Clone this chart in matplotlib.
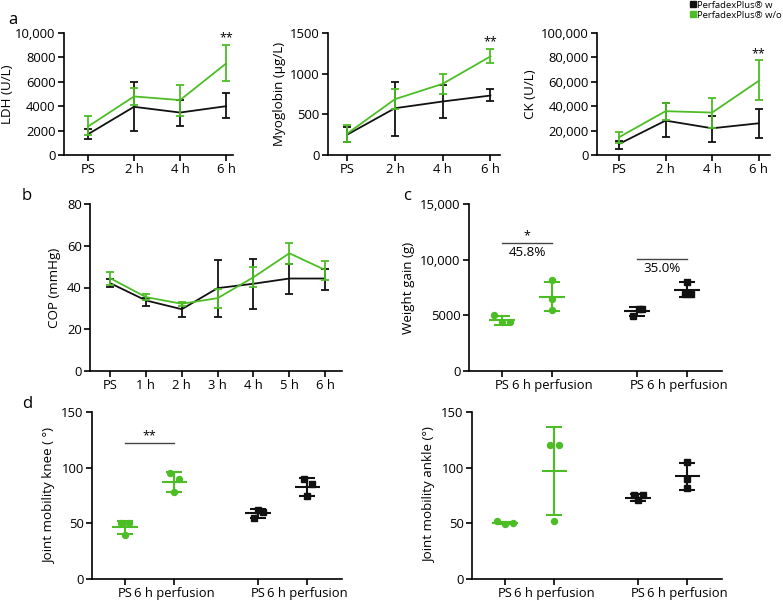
import numpy as np
import matplotlib
matplotlib.use('Agg')
import matplotlib.pyplot as plt
from matplotlib.lines import Line2D
from matplotlib.ticker import FuncFormatter

plt.rcParams['font.family'] = ['Open Sans', 'DejaVu Sans']
plt.rcParams['font.size'] = 9

GREEN = '#4dbd26'
BLACK = '#111111'

# panel a: time points
times_a = ['PS', '2 h', '4 h', '6 h']
ldh_w = [1700, 3950, 3480, 4000]
ldh_w_lo = [1300, 1950, 2400, 3000]
ldh_w_hi = [2150, 5950, 4500, 5070]
ldh_wo = [2330, 4800, 4500, 7500]
ldh_wo_lo = [1600, 4100, 3200, 6100]
ldh_wo_hi = [3170, 5500, 5700, 9000]

myo_w = [250, 575, 658, 731]
myo_w_lo = [160, 234, 452, 670]
myo_w_hi = [345, 900, 863, 810]
myo_wo = [262, 686, 875, 1212]
myo_wo_lo = [160, 560, 752, 1130]
myo_wo_hi = [375, 810, 990, 1303]

ck_w = [9000, 28200, 21900, 26000]
ck_w_lo = [4700, 14500, 11000, 14200]
ck_w_hi = [11200, 43000, 31800, 38000]
ck_wo = [14500, 35900, 34800, 60800]
ck_wo_lo = [10000, 28800, 22000, 45200]
ck_wo_hi = [19000, 42500, 47000, 77500]

# panel b: COP
times_b = ['PS', '1 h', '2 h', '3 h', '4 h', '5 h', '6 h']
cop_w = [42.1, 33.8, 29.6, 39.7, 41.8, 44.3, 44.3]
cop_w_lo = [40.2, 30.9, 25.8, 26.1, 29.8, 37.0, 38.9]
cop_w_hi = [44.0, 35.2, 32.5, 53.2, 53.5, 51.3, 49.1]
cop_wo = [44.5, 35.4, 32.2, 34.9, 44.9, 56.4, 48.4]
cop_wo_lo = [41.3, 33.8, 31.2, 30.3, 40.2, 51.3, 43.7]
cop_wo_hi = [47.3, 36.7, 33.1, 39.2, 49.7, 61.2, 52.9]

# panels c, d: individual values (w/o PS, w/o 6h, w PS, w 6h)
group_labels = ['PS', '6 h perfusion', 'PS', '6 h perfusion']
weight_pts = [[5020, 4420, 4420], [8130, 6510, 5500], [4900, 5560, 5560], [8000, 6930, 6930]]
weight_mean = [4570, 6690, 5350, 7290]
weight_sd = [400, 1310, 375, 660]
weight_jit = [[-0.16, 0, 0.16], [0, 0, 0], [-0.09, 0.03, 0.1], [0, -0.05, 0.07]]

knee_pts = [[50.1, 39.7, 50.1], [94.8, 77.8, 89.8], [54.6, 62.0, 60.5], [89.8, 74.6, 85.0]]
knee_mean = [46.5, 87.4, 59.0, 82.9]
knee_sd = [6.0, 9.0, 4.1, 7.9]
knee_jit = [[-0.09, 0, 0.09], [-0.08, 0, 0.09], [-0.08, 0, 0.1], [-0.07, 0, 0.09]]

ankle_pts = [[52.3, 49.3, 50.2], [120.2, 52.2, 120.2], [75.6, 70.9, 75.6], [89.8, 105.3, 82.0]]
ankle_mean = [50.3, 97.2, 73.0, 92.1]
ankle_sd = [1.2, 39.4, 3.0, 11.8]
ankle_jit = [[-0.16, 0, 0.16], [-0.08, 0, 0.09], [-0.08, 0, 0.09], [0, 0, 0]]

W, H = 783, 603
fig = plt.figure(figsize=(W / 100, H / 100), dpi=100)

TICK_FS = 9.4
LAB_FS = 9.6


def add_ax(l, r, t, b):
    return fig.add_axes([l / W, (H - b) / H, (r - l) / W, (b - t) / H])


def style(ax):
    for s in ['top', 'right']:
        ax.spines[s].set_visible(False)
    for s in ['left', 'bottom']:
        ax.spines[s].set_linewidth(1.2)
    ax.tick_params(direction='out', length=4, width=1.2, labelsize=TICK_FS, pad=2)


comma = FuncFormatter(lambda v, p: ('{:,.0f}'.format(v) if v >= 10000 else '{:.0f}'.format(v)))


def line_panel(ax, labels, w, wlo, whi, wo, wolo, wohi, xlim):
    x = np.arange(len(labels))
    for m, lo, hi, c, z in [(w, wlo, whi, BLACK, 2), (wo, wolo, wohi, GREEN, 3)]:
        m = np.array(m)
        err = [m - np.array(lo), np.array(hi) - m]
        ax.errorbar(x, m, yerr=err, color=c, lw=1.3, elinewidth=1.3, capsize=2.8,
                    capthick=1.3, zorder=z)
    ax.set_xticks(x)
    ax.set_xticklabels(labels)
    ax.set_xlim(*xlim)
    style(ax)


def dot_panel(ax, pts, jit, mean, sd, ylim, yticks, ylabel):
    pos = [1, 2, 3.7, 4.7]
    for i, p in enumerate(pos):
        c = GREEN if i < 2 else BLACK
        mk = 'o' if i < 2 else 's'
        ax.hlines(mean[i], p - 0.26, p + 0.26, color=c, lw=1.5, zorder=3)
        ax.errorbar([p], [mean[i]], yerr=[sd[i]], color=c, elinewidth=1.5,
                    capsize=5.5, capthick=1.5, fmt='none', zorder=3)
        ax.plot(np.array(jit[i]) + p, pts[i], mk, color=c, ms=4.3, zorder=4)
    ax.set_xticks(pos)
    ax.set_xticklabels(group_labels)
    ax.set_xlim(0.33, 5.4)
    ax.set_ylim(*ylim)
    ax.set_yticks(yticks)
    ax.yaxis.set_major_formatter(comma)
    ax.set_ylabel(ylabel, fontsize=LAB_FS, labelpad=4)
    style(ax)


# panel a
ax1 = add_ax(64, 233, 33, 155)
line_panel(ax1, times_a, ldh_w, ldh_w_lo, ldh_w_hi, ldh_wo, ldh_wo_lo, ldh_wo_hi, (-0.52, 3.15))
ax1.set_ylim(0, 10000)
ax1.set_yticks([0, 2000, 4000, 6000, 8000, 10000])
ax1.yaxis.set_major_formatter(comma)
ax1.set_ylabel('LDH (U/L)', fontsize=LAB_FS, labelpad=1)
ax1.text(3, 9100, '**', ha='center', va='bottom', fontsize=9)

ax2 = add_ax(328, 500, 33, 155)
line_panel(ax2, times_a, myo_w, myo_w_lo, myo_w_hi, myo_wo, myo_wo_lo, myo_wo_hi, (-0.4, 3.2))
ax2.set_ylim(0, 1500)
ax2.set_yticks([0, 500, 1000, 1500])
ax2.set_ylabel('Myoglobin (\u00b5g/L)', fontsize=LAB_FS, labelpad=3)
ax2.text(3, 1310, '**', ha='center', va='bottom', fontsize=9)

ax3 = add_ax(597, 770, 33, 155)
line_panel(ax3, times_a, ck_w, ck_w_lo, ck_w_hi, ck_wo, ck_wo_lo, ck_wo_hi, (-0.47, 3.24))
ax3.set_ylim(0, 100000)
ax3.set_yticks([0, 20000, 40000, 60000, 80000, 100000])
ax3.yaxis.set_major_formatter(FuncFormatter(lambda v, p: '{:,.0f}'.format(v)))
ax3.set_ylabel('CK (U/L)', fontsize=LAB_FS, labelpad=3)
ax3.text(3, 78000, '**', ha='center', va='bottom', fontsize=9)

# panel b
ax4 = add_ax(90, 342, 204, 371)
line_panel(ax4, times_b, cop_w, cop_w_lo, cop_w_hi, cop_wo, cop_wo_lo, cop_wo_hi, (-0.56, 6.47))
ax4.set_ylim(0, 80)
ax4.set_yticks([0, 20, 40, 60, 80])
ax4.set_ylabel('COP (mmHg)', fontsize=LAB_FS, labelpad=4)

# panel c
ax5 = add_ax(469, 722, 204, 371)
dot_panel(ax5, weight_pts, weight_jit, weight_mean, weight_sd, (0, 15000),
          [0, 5000, 10000, 15000], 'Weight gain (g)')
ax5.plot([1, 2], [11500, 11500], color='#444444', lw=1)
ax5.text(1.5, 11550, '*', ha='center', va='bottom', fontsize=9)
ax5.text(1.5, 11250, '45.8%', ha='center', va='top', fontsize=LAB_FS)
ax5.plot([3.7, 4.7], [10070, 10070], color='#444444', lw=1)
ax5.text(4.2, 9800, '35.0%', ha='center', va='top', fontsize=LAB_FS)

# panel d
ax6 = add_ax(92, 342, 412, 579)
dot_panel(ax6, knee_pts, knee_jit, knee_mean, knee_sd, (0, 150), [0, 50, 100, 150],
          'Joint mobility knee ( \u00b0)')
ax6.plot([1, 2], [122.3, 122.3], color='#444444', lw=1)
ax6.text(1.5, 122.5, '**', ha='center', va='bottom', fontsize=9)

ax7 = add_ax(472, 722, 412, 579)
dot_panel(ax7, ankle_pts, ankle_jit, ankle_mean, ankle_sd, (0, 150), [0, 50, 100, 150],
          'Joint mobility ankle (\u00b0)')

# panel letters
fig.text(8 / W, 1 - 20 / H, 'a', fontsize=12, va='center')
fig.text(22 / W, 1 - 196 / H, 'b', fontsize=12, va='center')
fig.text(403 / W, 1 - 196 / H, 'c', fontsize=12, va='center')
fig.text(22 / W, 1 - 404 / H, 'd', fontsize=12, va='center')

handles = [Line2D([], [], marker='s', color=BLACK, ls='none', ms=5),
           Line2D([], [], marker='s', color=GREEN, ls='none', ms=5)]
fig.legend(handles, ['PerfadexPlus\u00ae w', 'PerfadexPlus\u00ae w/o'], loc='upper left',
           bbox_to_anchor=(686 / W, 1 + 3 / H), frameon=False, fontsize=6.8,
           handlelength=0.6, handletextpad=0.15, labelspacing=0.1, borderaxespad=0)

fig.savefig('out.png', dpi=100)
